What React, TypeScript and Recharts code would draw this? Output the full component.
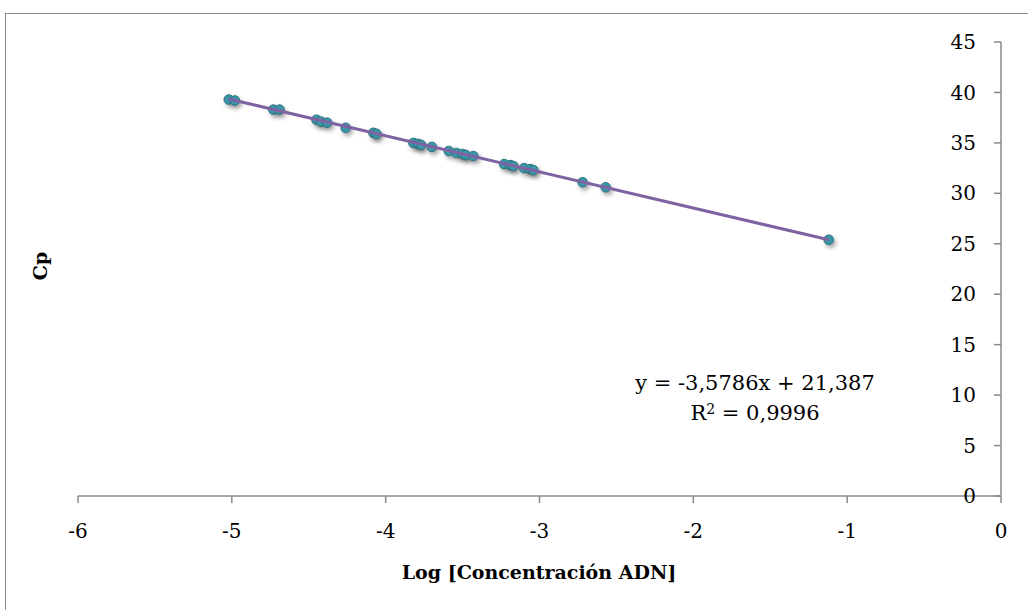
import { ScatterChart, Scatter, XAxis, YAxis } from 'recharts';

// Log [ADN concentration] vs Cp
const logConc = [
  -5.02, -4.98, -4.73, -4.69, -4.45, -4.42, -4.38, -4.26, -4.08, -4.06,
  -3.82, -3.79, -3.77, -3.70, -3.59, -3.54, -3.50, -3.48, -3.43,
  -3.23, -3.19, -3.17, -3.10, -3.06, -3.04, -2.72, -2.57, -1.12,
];
const cp = [
  39.3, 39.2, 38.3, 38.3, 37.3, 37.1, 37.0, 36.5, 36.0, 35.9,
  35.0, 34.9, 34.8, 34.6, 34.2, 34.0, 33.9, 33.8, 33.7,
  32.9, 32.8, 32.7, 32.5, 32.4, 32.3, 31.1, 30.6, 25.4,
];

const xTicks = [-6, -5, -4, -3, -2, -1, 0];
const yTicks = [0, 5, 10, 15, 20, 25, 30, 35, 40, 45];

// trendline from the equation shown on the chart
const slope = -3.5786;
const intercept = 21.387;
const equationText = 'y = -3,5786x + 21,387';
const r2Text = '0,9996';

const points = logConc.map((x, i) => ({ x, y: cp[i] }));
const xMin = Math.min(...logConc);
const xMax = Math.max(...logConc);
const trend = [xMin, xMax].map((x) => ({ x, y: slope * x + intercept }));

const FONT = '"DejaVu Serif", serif';
const AXIS = '#8a8a8a';

const Marker = (props: any) => {
  const { cx, cy } = props;
  return (
    <circle
      cx={cx}
      cy={cy}
      r={4.8}
      fill="#3b96a7"
      stroke="#2a7283"
      strokeWidth={1}
      style={{ filter: 'drop-shadow(2px 3px 2px rgba(0,0,0,0.35))' }}
    />
  );
};

export default function App() {
  return (
    <div style={{ position: 'fixed', left: 0, top: 0, width: 1028, height: 610, overflow: 'hidden', background: '#fff' }}>
      <div
        style={{
          position: 'absolute',
          left: 5,
          top: 13,
          width: 1100,
          height: 700,
          border: '1.5px solid #8c8c8c',
        }}
      />
      <div style={{ position: 'absolute', left: 0, top: 0 }}>
        <ScatterChart width={1028} height={610} margin={{ top: 42, right: 27, left: 78, bottom: 74 }}>
          <XAxis
            type="number"
            dataKey="x"
            domain={[-6, 0]}
            ticks={xTicks}
            allowDataOverflow
            height={40}
            tickSize={7}
            tickMargin={21}
            axisLine={{ stroke: AXIS, strokeWidth: 1.5 }}
            tickLine={{ stroke: AXIS, strokeWidth: 1.5 }}
            tick={{ fill: '#000', fontSize: 20, fontFamily: FONT }}
          />
          <YAxis
            type="number"
            dataKey="y"
            orientation="right"
            mirror
            width={27}
            domain={[0, 45]}
            ticks={yTicks}
            allowDataOverflow
            tickSize={7}
            tickMargin={18}
            axisLine={{ stroke: AXIS, strokeWidth: 1.5 }}
            tickLine={{ stroke: AXIS, strokeWidth: 1.5 }}
            tick={{ fill: '#000', fontSize: 20, fontFamily: FONT }}
          />
          <Scatter data={points} shape={<Marker />} isAnimationActive={false} />
          <Scatter
            data={trend}
            line={{ stroke: '#7f62a1', strokeWidth: 3 }}
            lineType="joint"
            shape={() => <g />}
            isAnimationActive={false}
          />
        </ScatterChart>
      </div>
      <div
        style={{
          position: 'absolute',
          left: 539,
          top: 572,
          transform: 'translate(-50%, -50%)',
          fontFamily: FONT,
          fontWeight: 'bold',
          fontSize: 19,
          whiteSpace: 'nowrap',
        }}
      >
        Log [Concentración ADN]
      </div>
      <div
        style={{
          position: 'absolute',
          left: 40,
          top: 266,
          transform: 'translate(-50%, -50%) rotate(-90deg)',
          fontFamily: FONT,
          fontWeight: 'bold',
          fontSize: 19,
          whiteSpace: 'nowrap',
        }}
      >
        Cp
      </div>
      <div
        style={{
          position: 'absolute',
          left: 755,
          top: 398,
          transform: 'translate(-50%, -50%)',
          fontFamily: FONT,
          fontSize: 21,
          lineHeight: '30px',
          textAlign: 'center',
          whiteSpace: 'nowrap',
        }}
      >
        <div>{equationText}</div>
        <div>
          R<sup style={{ fontSize: 14, verticalAlign: 'top', position: 'relative', top: -4 }}>2</sup> = {r2Text}
        </div>
      </div>
    </div>
  );
}
